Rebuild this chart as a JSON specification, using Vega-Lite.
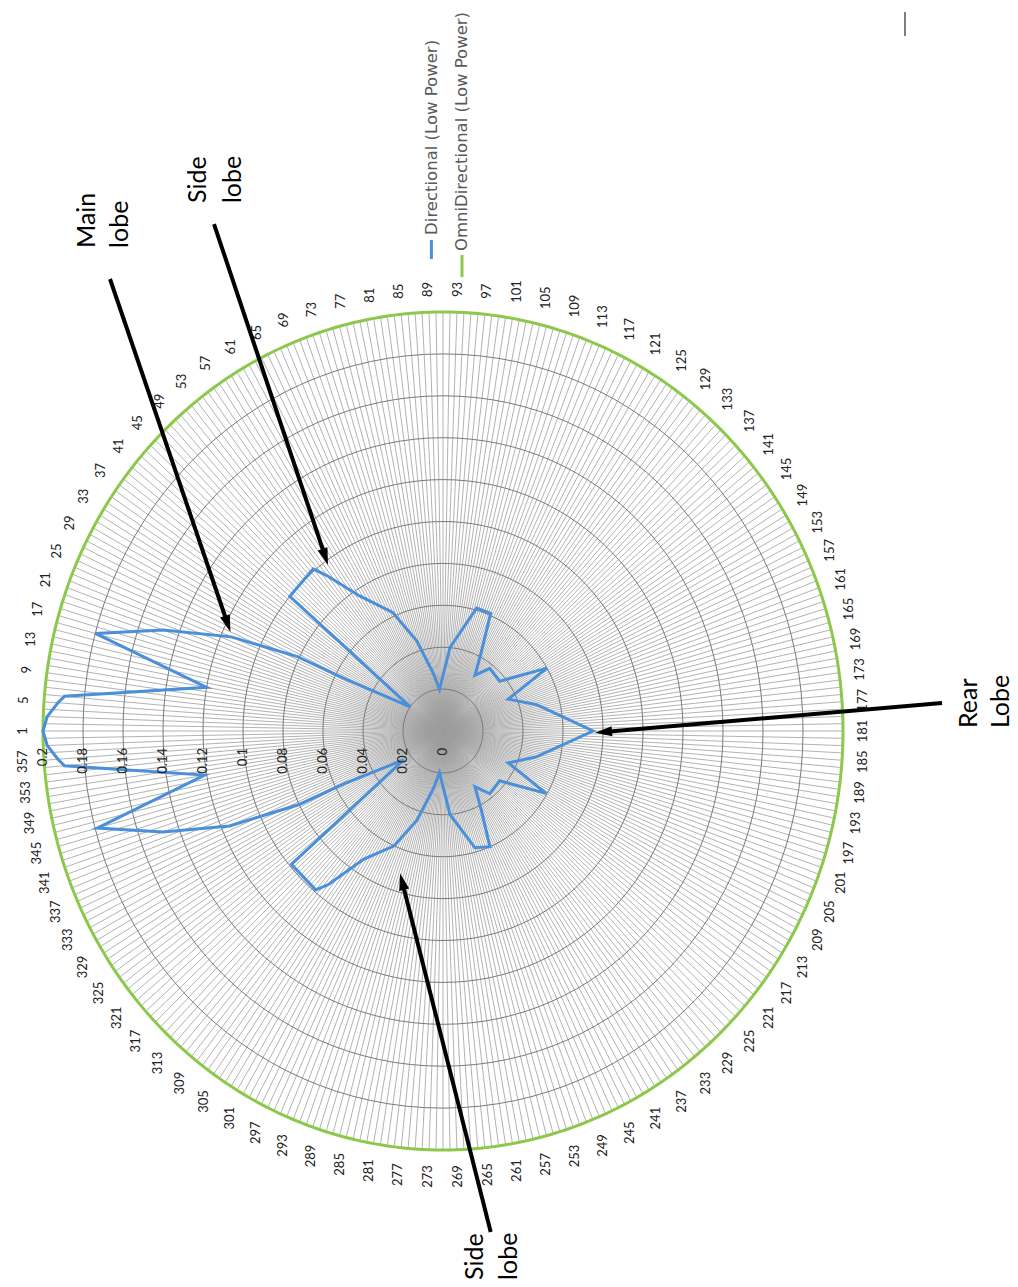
{
"$schema": "https://vega.github.io/schema/vega-lite/v6.json",
"width": 1018, "height": 1287, "autosize": {"type": "none"}, "padding": 0,
"background": "white",
"config": {"view": {"stroke": null}},
"datasets": {
"deg": [{"a":1,"v":0.2},{"a":2,"v":0.2},{"a":3,"v":0.2},{"a":4,"v":0.2},{"a":5,"v":0.2},{"a":6,"v":0.2},{"a":7,"v":0.2},{"a":8,"v":0.2},{"a":9,"v":0.2},{"a":10,"v":0.2},
{"a":11,"v":0.2},{"a":12,"v":0.2},{"a":13,"v":0.2},{"a":14,"v":0.2},{"a":15,"v":0.2},{"a":16,"v":0.2},{"a":17,"v":0.2},{"a":18,"v":0.2},{"a":19,"v":0.2},{"a":20,"v":0.2},
{"a":21,"v":0.2},{"a":22,"v":0.2},{"a":23,"v":0.2},{"a":24,"v":0.2},{"a":25,"v":0.2},{"a":26,"v":0.2},{"a":27,"v":0.2},{"a":28,"v":0.2},{"a":29,"v":0.2},{"a":30,"v":0.2},
{"a":31,"v":0.2},{"a":32,"v":0.2},{"a":33,"v":0.2},{"a":34,"v":0.2},{"a":35,"v":0.2},{"a":36,"v":0.2},{"a":37,"v":0.2},{"a":38,"v":0.2},{"a":39,"v":0.2},{"a":40,"v":0.2},
{"a":41,"v":0.2},{"a":42,"v":0.2},{"a":43,"v":0.2},{"a":44,"v":0.2},{"a":45,"v":0.2},{"a":46,"v":0.2},{"a":47,"v":0.2},{"a":48,"v":0.2},{"a":49,"v":0.2},{"a":50,"v":0.2},
{"a":51,"v":0.2},{"a":52,"v":0.2},{"a":53,"v":0.2},{"a":54,"v":0.2},{"a":55,"v":0.2},{"a":56,"v":0.2},{"a":57,"v":0.2},{"a":58,"v":0.2},{"a":59,"v":0.2},{"a":60,"v":0.2},
{"a":61,"v":0.2},{"a":62,"v":0.2},{"a":63,"v":0.2},{"a":64,"v":0.2},{"a":65,"v":0.2},{"a":66,"v":0.2},{"a":67,"v":0.2},{"a":68,"v":0.2},{"a":69,"v":0.2},{"a":70,"v":0.2},
{"a":71,"v":0.2},{"a":72,"v":0.2},{"a":73,"v":0.2},{"a":74,"v":0.2},{"a":75,"v":0.2},{"a":76,"v":0.2},{"a":77,"v":0.2},{"a":78,"v":0.2},{"a":79,"v":0.2},{"a":80,"v":0.2},
{"a":81,"v":0.2},{"a":82,"v":0.2},{"a":83,"v":0.2},{"a":84,"v":0.2},{"a":85,"v":0.2},{"a":86,"v":0.2},{"a":87,"v":0.2},{"a":88,"v":0.2},{"a":89,"v":0.2},{"a":90,"v":0.2},
{"a":91,"v":0.2},{"a":92,"v":0.2},{"a":93,"v":0.2},{"a":94,"v":0.2},{"a":95,"v":0.2},{"a":96,"v":0.2},{"a":97,"v":0.2},{"a":98,"v":0.2},{"a":99,"v":0.2},{"a":100,"v":0.2},
{"a":101,"v":0.2},{"a":102,"v":0.2},{"a":103,"v":0.2},{"a":104,"v":0.2},{"a":105,"v":0.2},{"a":106,"v":0.2},{"a":107,"v":0.2},{"a":108,"v":0.2},{"a":109,"v":0.2},{"a":110,"v":0.2},
{"a":111,"v":0.2},{"a":112,"v":0.2},{"a":113,"v":0.2},{"a":114,"v":0.2},{"a":115,"v":0.2},{"a":116,"v":0.2},{"a":117,"v":0.2},{"a":118,"v":0.2},{"a":119,"v":0.2},{"a":120,"v":0.2},
{"a":121,"v":0.2},{"a":122,"v":0.2},{"a":123,"v":0.2},{"a":124,"v":0.2},{"a":125,"v":0.2},{"a":126,"v":0.2},{"a":127,"v":0.2},{"a":128,"v":0.2},{"a":129,"v":0.2},{"a":130,"v":0.2},
{"a":131,"v":0.2},{"a":132,"v":0.2},{"a":133,"v":0.2},{"a":134,"v":0.2},{"a":135,"v":0.2},{"a":136,"v":0.2},{"a":137,"v":0.2},{"a":138,"v":0.2},{"a":139,"v":0.2},{"a":140,"v":0.2},
{"a":141,"v":0.2},{"a":142,"v":0.2},{"a":143,"v":0.2},{"a":144,"v":0.2},{"a":145,"v":0.2},{"a":146,"v":0.2},{"a":147,"v":0.2},{"a":148,"v":0.2},{"a":149,"v":0.2},{"a":150,"v":0.2},
{"a":151,"v":0.2},{"a":152,"v":0.2},{"a":153,"v":0.2},{"a":154,"v":0.2},{"a":155,"v":0.2},{"a":156,"v":0.2},{"a":157,"v":0.2},{"a":158,"v":0.2},{"a":159,"v":0.2},{"a":160,"v":0.2},
{"a":161,"v":0.2},{"a":162,"v":0.2},{"a":163,"v":0.2},{"a":164,"v":0.2},{"a":165,"v":0.2},{"a":166,"v":0.2},{"a":167,"v":0.2},{"a":168,"v":0.2},{"a":169,"v":0.2},{"a":170,"v":0.2},
{"a":171,"v":0.2},{"a":172,"v":0.2},{"a":173,"v":0.2},{"a":174,"v":0.2},{"a":175,"v":0.2},{"a":176,"v":0.2},{"a":177,"v":0.2},{"a":178,"v":0.2},{"a":179,"v":0.2},{"a":180,"v":0.2},
{"a":181,"v":0.2},{"a":182,"v":0.2},{"a":183,"v":0.2},{"a":184,"v":0.2},{"a":185,"v":0.2},{"a":186,"v":0.2},{"a":187,"v":0.2},{"a":188,"v":0.2},{"a":189,"v":0.2},{"a":190,"v":0.2},
{"a":191,"v":0.2},{"a":192,"v":0.2},{"a":193,"v":0.2},{"a":194,"v":0.2},{"a":195,"v":0.2},{"a":196,"v":0.2},{"a":197,"v":0.2},{"a":198,"v":0.2},{"a":199,"v":0.2},{"a":200,"v":0.2},
{"a":201,"v":0.2},{"a":202,"v":0.2},{"a":203,"v":0.2},{"a":204,"v":0.2},{"a":205,"v":0.2},{"a":206,"v":0.2},{"a":207,"v":0.2},{"a":208,"v":0.2},{"a":209,"v":0.2},{"a":210,"v":0.2},
{"a":211,"v":0.2},{"a":212,"v":0.2},{"a":213,"v":0.2},{"a":214,"v":0.2},{"a":215,"v":0.2},{"a":216,"v":0.2},{"a":217,"v":0.2},{"a":218,"v":0.2},{"a":219,"v":0.2},{"a":220,"v":0.2},
{"a":221,"v":0.2},{"a":222,"v":0.2},{"a":223,"v":0.2},{"a":224,"v":0.2},{"a":225,"v":0.2},{"a":226,"v":0.2},{"a":227,"v":0.2},{"a":228,"v":0.2},{"a":229,"v":0.2},{"a":230,"v":0.2},
{"a":231,"v":0.2},{"a":232,"v":0.2},{"a":233,"v":0.2},{"a":234,"v":0.2},{"a":235,"v":0.2},{"a":236,"v":0.2},{"a":237,"v":0.2},{"a":238,"v":0.2},{"a":239,"v":0.2},{"a":240,"v":0.2},
{"a":241,"v":0.2},{"a":242,"v":0.2},{"a":243,"v":0.2},{"a":244,"v":0.2},{"a":245,"v":0.2},{"a":246,"v":0.2},{"a":247,"v":0.2},{"a":248,"v":0.2},{"a":249,"v":0.2},{"a":250,"v":0.2},
{"a":251,"v":0.2},{"a":252,"v":0.2},{"a":253,"v":0.2},{"a":254,"v":0.2},{"a":255,"v":0.2},{"a":256,"v":0.2},{"a":257,"v":0.2},{"a":258,"v":0.2},{"a":259,"v":0.2},{"a":260,"v":0.2},
{"a":261,"v":0.2},{"a":262,"v":0.2},{"a":263,"v":0.2},{"a":264,"v":0.2},{"a":265,"v":0.2},{"a":266,"v":0.2},{"a":267,"v":0.2},{"a":268,"v":0.2},{"a":269,"v":0.2},{"a":270,"v":0.2},
{"a":271,"v":0.2},{"a":272,"v":0.2},{"a":273,"v":0.2},{"a":274,"v":0.2},{"a":275,"v":0.2},{"a":276,"v":0.2},{"a":277,"v":0.2},{"a":278,"v":0.2},{"a":279,"v":0.2},{"a":280,"v":0.2},
{"a":281,"v":0.2},{"a":282,"v":0.2},{"a":283,"v":0.2},{"a":284,"v":0.2},{"a":285,"v":0.2},{"a":286,"v":0.2},{"a":287,"v":0.2},{"a":288,"v":0.2},{"a":289,"v":0.2},{"a":290,"v":0.2},
{"a":291,"v":0.2},{"a":292,"v":0.2},{"a":293,"v":0.2},{"a":294,"v":0.2},{"a":295,"v":0.2},{"a":296,"v":0.2},{"a":297,"v":0.2},{"a":298,"v":0.2},{"a":299,"v":0.2},{"a":300,"v":0.2},
{"a":301,"v":0.2},{"a":302,"v":0.2},{"a":303,"v":0.2},{"a":304,"v":0.2},{"a":305,"v":0.2},{"a":306,"v":0.2},{"a":307,"v":0.2},{"a":308,"v":0.2},{"a":309,"v":0.2},{"a":310,"v":0.2},
{"a":311,"v":0.2},{"a":312,"v":0.2},{"a":313,"v":0.2},{"a":314,"v":0.2},{"a":315,"v":0.2},{"a":316,"v":0.2},{"a":317,"v":0.2},{"a":318,"v":0.2},{"a":319,"v":0.2},{"a":320,"v":0.2},
{"a":321,"v":0.2},{"a":322,"v":0.2},{"a":323,"v":0.2},{"a":324,"v":0.2},{"a":325,"v":0.2},{"a":326,"v":0.2},{"a":327,"v":0.2},{"a":328,"v":0.2},{"a":329,"v":0.2},{"a":330,"v":0.2},
{"a":331,"v":0.2},{"a":332,"v":0.2},{"a":333,"v":0.2},{"a":334,"v":0.2},{"a":335,"v":0.2},{"a":336,"v":0.2},{"a":337,"v":0.2},{"a":338,"v":0.2},{"a":339,"v":0.2},{"a":340,"v":0.2},
{"a":341,"v":0.2},{"a":342,"v":0.2},{"a":343,"v":0.2},{"a":344,"v":0.2},{"a":345,"v":0.2},{"a":346,"v":0.2},{"a":347,"v":0.2},{"a":348,"v":0.2},{"a":349,"v":0.2},{"a":350,"v":0.2},
{"a":351,"v":0.2},{"a":352,"v":0.2},{"a":353,"v":0.2},{"a":354,"v":0.2},{"a":355,"v":0.2},{"a":356,"v":0.2},{"a":357,"v":0.2},{"a":358,"v":0.2},{"a":359,"v":0.2},{"a":360,"v":0.2}],
"dir": [{"a":1,"v":0.2},{"a":3,"v":0.198},{"a":5,"v":0.193},{"a":6,"v":0.19},{"a":11,"v":0.12},{"a":16,"v":0.18},{"a":20,"v":0.148},{"a":24,"v":0.115},{"a":27,"v":0.081},{"a":28,"v":0.054},
{"a":36,"v":0.02},{"a":41,"v":0.1},{"a":51,"v":0.101},{"a":53,"v":0.094},{"a":58,"v":0.077},{"a":67,"v":0.062},{"a":74,"v":0.045},{"a":81,"v":0.028},{"a":86,"v":0.02},{"a":96,"v":0.04},
{"a":107,"v":0.061},{"a":114,"v":0.061},{"a":118,"v":0.042},{"a":122,"v":0.031},{"a":129,"v":0.038},{"a":141,"v":0.037},{"a":151,"v":0.06},{"a":156,"v":0.036},{"a":166,"v":0.0485},{"a":181,"v":0.075},
{"a":196,"v":0.048},{"a":206,"v":0.036},{"a":211,"v":0.0595},{"a":221,"v":0.037},{"a":233,"v":0.038},{"a":240,"v":0.031},{"a":244,"v":0.042},{"a":248,"v":0.06},{"a":255,"v":0.058},{"a":266,"v":0.04},
{"a":276,"v":0.02},{"a":281,"v":0.028},{"a":288,"v":0.0445},{"a":295,"v":0.06},{"a":304,"v":0.073},{"a":309,"v":0.093},{"a":311,"v":0.099},{"a":321,"v":0.099},{"a":326,"v":0.024},{"a":334,"v":0.055},
{"a":335,"v":0.08},{"a":338,"v":0.116},{"a":342,"v":0.148},{"a":346,"v":0.179},{"a":351,"v":0.121},{"a":356,"v":0.19},{"a":357,"v":0.193},{"a":359,"v":0.198}],
"rings": [{"r":0},{"r":0.02},{"r":0.04},{"r":0.06},{"r":0.08},{"r":0.1},{"r":0.12},{"r":0.14},{"r":0.16},{"r":0.18},{"r":0.2}],
"ann": [{"t":"Main","x":-0.178,"y":0.2306},{"t":"lobe","x":-0.1615,"y":0.2306},
{"t":"Side","x":-0.1225,"y":0.252},{"t":"lobe","x":-0.105,"y":0.252},
{"t":"Rear","x":0.263,"y":0.0014},{"t":"Lobe","x":0.279,"y":0.0014},
{"t":"Side","x":0.016,"y":-0.262},{"t":"lobe","x":0.033,"y":-0.262}],
"arrows": [{"x1":-0.1665,"y1":0.21575,"x2":-0.10765,"y2":0.05107},
{"x1":-0.1145,"y1":0.242,"x2":-0.05885,"y2":0.0831},
{"x1":0.2495,"y1":0.01337,"x2":0.08025,"y2":-0.00048},
{"x1":0.02385,"y1":-0.23914,"x2":-0.02045,"y2":-0.07184}],
"legend": [{"s":"Directional (Low Power)"},{"s":"OmniDirectional (Low Power)"}],
"mark": [{"s":"|"}]
},
"layer": [
{"data": {"name": "deg"},
 "transform": [{"calculate": "(181-datum.a)*PI/180", "as": "phi"}, {"calculate": "0", "as": "cx"}, {"calculate": "0.2*cos(datum.phi)", "as": "ex"}, {"calculate": "0.2*sin(datum.phi)", "as": "ey"}],
 "mark": {"type": "rule", "color": "#9e9e9e", "strokeWidth": 0.8},
 "encoding": {
  "x": {"field": "cx", "type": "quantitative", "scale": {"domain": [-0.2215, 0.2875], "nice": false, "zero": false}, "axis": null},
  "y": {"field": "cx", "type": "quantitative", "scale": {"domain": [-0.26539, 0.34893], "nice": false, "zero": false}, "axis": null},
  "x2": {"field": "ex"}, "y2": {"field": "ey"}}},
{"data": {"name": "rings"},
 "transform": [{"filter": "datum.r > 0"}, {"calculate": "0", "as": "cx"}],
 "mark": {"type": "point", "shape": "M-1,0A1,1.0475,0,1,1,1,0A1,1.0475,0,1,1,-1,0Z", "filled": false, "color": "#7a7a7a", "strokeWidth": 1, "opacity": 1},
 "encoding": {
  "x": {"field": "cx", "type": "quantitative", "scale": {"domain": [-0.2215, 0.2875], "nice": false, "zero": false}, "axis": null},
  "y": {"field": "cx", "type": "quantitative", "scale": {"domain": [-0.26539, 0.34893], "nice": false, "zero": false}, "axis": null},
  "size": {"field": "r", "type": "quantitative", "scale": {"type": "pow", "exponent": 2, "domain": [0, 0.2], "range": [0, 640000]}, "legend": null}}},
{"data": {"name": "deg"},
 "transform": [{"calculate": "(181-datum.a)*PI/180", "as": "phi"}, {"calculate": "datum.v*cos(datum.phi)", "as": "px"}, {"calculate": "datum.v*sin(datum.phi)", "as": "py"}],
 "mark": {"type": "line", "interpolate": "linear-closed", "color": "#8cc84b", "strokeWidth": 3},
 "encoding": {
  "x": {"field": "px", "type": "quantitative", "scale": {"domain": [-0.2215, 0.2875], "nice": false, "zero": false}, "axis": null},
  "y": {"field": "py", "type": "quantitative", "scale": {"domain": [-0.26539, 0.34893], "nice": false, "zero": false}, "axis": null},
  "order": {"field": "a", "type": "quantitative"}}},
{"data": {"name": "dir"},
 "transform": [{"calculate": "(181-datum.a)*PI/180", "as": "phi"}, {"calculate": "datum.v*cos(datum.phi)", "as": "px"}, {"calculate": "datum.v*sin(datum.phi)", "as": "py"}],
 "mark": {"type": "line", "interpolate": "linear-closed", "color": "#4a8fd9", "strokeWidth": 3},
 "encoding": {
  "x": {"field": "px", "type": "quantitative", "scale": {"domain": [-0.2215, 0.2875], "nice": false, "zero": false}, "axis": null},
  "y": {"field": "py", "type": "quantitative", "scale": {"domain": [-0.26539, 0.34893], "nice": false, "zero": false}, "axis": null},
  "order": {"field": "a", "type": "quantitative"}}},
{"data": {"name": "deg"},
 "transform": [{"filter": "(datum.a - 1) % 4 == 0"}, {"calculate": "(181-datum.a)*PI/180", "as": "phi"}, {"calculate": "length(toString(datum.a))", "as": "len"},
  {"calculate": "0.2 + (14 + 6*abs(cos(datum.phi)) + 3.75*datum.len*abs(sin(datum.phi)))/2000", "as": "lr"},
  {"calculate": "datum.lr*cos(datum.phi)", "as": "tx"}, {"calculate": "datum.lr*sin(datum.phi)", "as": "ty"}],
 "mark": {"type": "text", "angle": 270, "align": "center", "baseline": "middle", "font": "Lato", "fontSize": 13, "color": "#222222"},
 "encoding": {
  "x": {"field": "tx", "type": "quantitative", "scale": {"domain": [-0.2215, 0.2875], "nice": false, "zero": false}, "axis": null},
  "y": {"field": "ty", "type": "quantitative", "scale": {"domain": [-0.26539, 0.34893], "nice": false, "zero": false}, "axis": null},
  "text": {"field": "a", "type": "quantitative", "format": "d"}}},
{"data": {"name": "rings"},
 "transform": [{"calculate": "-datum.r", "as": "nx"}, {"calculate": "0", "as": "cy"}],
 "mark": {"type": "text", "angle": 270, "align": "right", "baseline": "middle", "font": "Lato", "fontSize": 13, "color": "#222222", "yOffset": 17},
 "encoding": {
  "x": {"field": "nx", "type": "quantitative", "scale": {"domain": [-0.2215, 0.2875], "nice": false, "zero": false}, "axis": null},
  "y": {"field": "cy", "type": "quantitative", "scale": {"domain": [-0.26539, 0.34893], "nice": false, "zero": false}, "axis": null},
  "text": {"field": "r", "type": "quantitative", "format": ".2~f"}}},
{"data": {"name": "legend"},
 "transform": [{"calculate": "datum.s == 'Directional (Low Power)' ? -0.0058 : 0.0095", "as": "lx"},
  {"calculate": "datum.s == 'Directional (Low Power)' ? 0.2253 : 0.2167", "as": "ly1"},
  {"calculate": "datum.s == 'Directional (Low Power)' ? 0.2344 : 0.2272", "as": "ly2"}],
 "mark": {"type": "rule", "strokeWidth": 3},
 "encoding": {
  "x": {"field": "lx", "type": "quantitative", "scale": {"domain": [-0.2215, 0.2875], "nice": false, "zero": false}, "axis": null},
  "y": {"field": "ly1", "type": "quantitative", "scale": {"domain": [-0.26539, 0.34893], "nice": false, "zero": false}, "axis": null},
  "y2": {"field": "ly2"},
  "color": {"field": "s", "type": "nominal", "scale": {"domain": ["Directional (Low Power)", "OmniDirectional (Low Power)"], "range": ["#4a8fd9", "#8cc84b"]}, "legend": null}}},
{"data": {"name": "legend"},
 "transform": [{"calculate": "datum.s == 'Directional (Low Power)' ? -0.0055 : 0.0095", "as": "lx"},
  {"calculate": "datum.s == 'Directional (Low Power)' ? 0.2368 : 0.2291", "as": "ly"}],
 "mark": {"type": "text", "angle": 270, "align": "left", "baseline": "middle", "font": "DejaVu Sans", "fontSize": 16.5, "color": "#595959"},
 "encoding": {
  "x": {"field": "lx", "type": "quantitative", "scale": {"domain": [-0.2215, 0.2875], "nice": false, "zero": false}, "axis": null},
  "y": {"field": "ly", "type": "quantitative", "scale": {"domain": [-0.26539, 0.34893], "nice": false, "zero": false}, "axis": null},
  "text": {"field": "s", "type": "nominal"}}},
{"data": {"name": "mark"},
 "transform": [{"calculate": "0.231", "as": "mx"}, {"calculate": "0.3317", "as": "my1"}, {"calculate": "0.3432", "as": "my2"}],
 "mark": {"type": "rule", "color": "#555555", "strokeWidth": 1.5},
 "encoding": {
  "x": {"field": "mx", "type": "quantitative", "scale": {"domain": [-0.2215, 0.2875], "nice": false, "zero": false}, "axis": null},
  "y": {"field": "my1", "type": "quantitative", "scale": {"domain": [-0.26539, 0.34893], "nice": false, "zero": false}, "axis": null},
  "y2": {"field": "my2"}}},
{"data": {"name": "ann"},
 "mark": {"type": "text", "angle": 270, "align": "left", "baseline": "middle", "font": "Lato", "fontSize": 25, "color": "#000000"},
 "encoding": {
  "x": {"field": "x", "type": "quantitative", "scale": {"domain": [-0.2215, 0.2875], "nice": false, "zero": false}, "axis": null},
  "y": {"field": "y", "type": "quantitative", "scale": {"domain": [-0.26539, 0.34893], "nice": false, "zero": false}, "axis": null},
  "text": {"field": "t", "type": "nominal"}}},
{"data": {"name": "arrows"},
 "mark": {"type": "rule", "color": "#000000", "strokeWidth": 4},
 "encoding": {
  "x": {"field": "x1", "type": "quantitative", "scale": {"domain": [-0.2215, 0.2875], "nice": false, "zero": false}, "axis": null},
  "y": {"field": "y1", "type": "quantitative", "scale": {"domain": [-0.26539, 0.34893], "nice": false, "zero": false}, "axis": null},
  "x2": {"field": "x2"}, "y2": {"field": "y2"}}},
{"data": {"name": "arrows"},
 "transform": [{"calculate": "atan2((datum.x2-datum.x1)*2000, (datum.y2-datum.y1)*2095)*180/PI", "as": "ang"}],
 "mark": {"type": "point", "shape": "M0,-1L0.6,1L-0.6,1Z", "filled": true, "color": "#000000", "size": 289, "opacity": 1},
 "encoding": {
  "x": {"field": "x2", "type": "quantitative", "scale": {"domain": [-0.2215, 0.2875], "nice": false, "zero": false}, "axis": null},
  "y": {"field": "y2", "type": "quantitative", "scale": {"domain": [-0.26539, 0.34893], "nice": false, "zero": false}, "axis": null},
  "angle": {"field": "ang", "type": "quantitative", "scale": null}}}
]
}
